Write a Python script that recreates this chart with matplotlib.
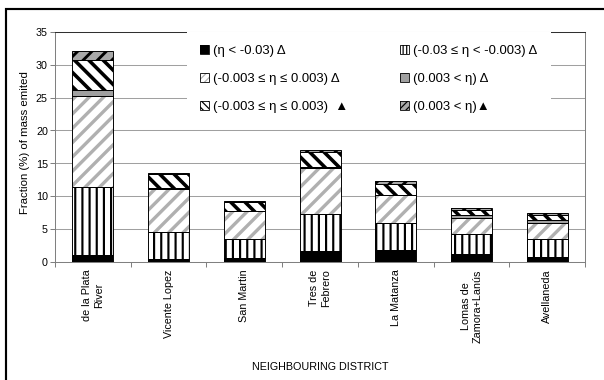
import matplotlib
matplotlib.use("Agg")
import numpy as np
import matplotlib.pyplot as plt
from matplotlib.patches import Patch, Rectangle
from matplotlib.legend_handler import HandlerTuple

plt.rcParams["font.family"] = ["Liberation Sans", "DejaVu Sans"]

districts = ["de la Plata\nRiver", "Vicente Lopez", "San Martin", "Tres de\nFebrero",
             "La Matanza", "Lomas de\nZamora+Lanús", "Avellaneda"]

# fraction (%) of the emitted mass falling in each eta class, per district
eta_lt_m003_open = [1.0, 0.4, 0.6, 1.65, 1.85, 1.15, 0.8]
eta_m003_m0003_open = [10.4, 4.1, 2.9, 5.7, 4.1, 3.15, 2.75]
eta_neutral_open = [13.8, 6.6, 4.2, 7.0, 4.2, 2.4, 2.35]
eta_pos_open = [1.0, 0.1, 0.1, 0.1, 0.1, 0.4, 0.45]
eta_neutral_solid = [4.5, 2.2, 1.3, 2.2, 1.65, 0.75, 0.85]
eta_pos_solid = [1.4, 0.2, 0.2, 0.35, 0.4, 0.4, 0.3]

series_labels = ["(η < -0.03) Δ", "(-0.03 ≤ η < -0.003) Δ", "(-0.003 ≤ η ≤ 0.003) Δ",
                 "(0.003 < η) Δ", "(-0.003 ≤ η ≤ 0.003)  ▲", "(0.003 < η)▲"]
y_ticks = [0, 5, 10, 15, 20, 25, 30, 35]

series = [eta_lt_m003_open, eta_m003_m0003_open, eta_neutral_open,
          eta_pos_open, eta_neutral_solid, eta_pos_solid]

styles = [
    dict(face="black", hatch=None, hcolor="black", hlw=1.0, lhatch=None),
    dict(face="white", hatch="||", hcolor="black", hlw=1.8, lhatch="||||"),
    dict(face="white", hatch="//", hcolor="#b0b0b0", hlw=2.8, lhatch="////"),
    dict(face="#a0a0a0", hatch=None, hcolor="#a0a0a0", hlw=1.0, lhatch=None),
    dict(face="white", hatch="\\\\", hcolor="black", hlw=3.0, lhatch="\\\\\\\\"),
    dict(face="#a8a8a8", hatch="//", hcolor="black", hlw=2.4, lhatch="////"),
]

DPI = 86
W, H = 604, 380
fig = plt.figure(figsize=(604.2 / DPI, 380.2 / DPI), dpi=DPI)
fig.patch.set_facecolor("white")
ax = fig.add_axes([55 / W, 1 - 262 / H, 530 / W, 230 / H])

x = np.arange(len(districts))
width = 0.54
bottom = np.zeros(len(x))
handles = []
for vals, st in zip(series, styles):
    vals = np.asarray(vals, dtype=float)
    with plt.rc_context({"hatch.linewidth": st["hlw"]}):
        bars = ax.bar(x, vals, width, bottom=bottom, color=st["face"],
                      edgecolor=st["hcolor"], hatch=st["hatch"], linewidth=0, zorder=2)
        for p in bars:
            if hasattr(p, "set_hatch_linewidth"):
                p.set_hatch_linewidth(st["hlw"])
        ax.bar(x, vals, width, bottom=bottom, fill=False, edgecolor="black",
               linewidth=0.8, zorder=3)
    with plt.rc_context({"hatch.linewidth": 1.2}):
        fill_h = Patch(facecolor=st["face"], edgecolor=st["hcolor"],
                       hatch=st["lhatch"], linewidth=0)
    edge_h = Patch(fill=False, edgecolor="black", linewidth=0.7)
    handles.append((fill_h, edge_h))
    bottom += vals

ax.set_xlim(-0.5, len(x) - 0.5)
ax.set_ylim(0, 35)
ax.set_yticks(y_ticks)
ax.yaxis.grid(True, color="#a0a0a0", linewidth=0.85, zorder=0)
ax.set_axisbelow(True)

ax.set_xticks(x)
ax.set_xticklabels(districts, rotation=90, ha="center", va="top",
                   multialignment="center", fontsize=9)
ax.set_xticks(np.arange(-0.5, len(x), 1.0), minor=True)
ax.tick_params(axis="x", which="major", length=0, pad=6)
ax.tick_params(axis="x", which="minor", length=4, color="#808080", width=0.85)
ax.tick_params(axis="y", length=4, color="#808080", width=0.85, labelsize=9, pad=2)

for side in ["left", "bottom", "right"]:
    ax.spines[side].set_color("#808080")
    ax.spines[side].set_linewidth(0.85)
ax.spines["top"].set_color("#303030")
ax.spines["top"].set_linewidth(0.85)

ax.set_ylabel("Fraction (%) of mass emited", fontsize=9.5)
ax.yaxis.set_label_coords((25 - 55) / 530, (262 - 142) / 230)
ax.yaxis.label.set_va("center")
ax.set_xlabel("NEIGHBOURING DISTRICT", fontsize=9)
ax.xaxis.set_label_coords(0.5, (262 - 367) / 230)
ax.xaxis.label.set_va("center")

# legend in two columns, filled row by row
order = [0, 2, 4, 1, 3, 5]
fs = 11
fs_px = fs * DPI / 72
hl, htp = 0.7, 0.3

fig.canvas.draw()
renderer = fig.canvas.get_renderer()
col1_text_w = max(
    fig.text(0, 0, series_labels[i], fontsize=fs).get_window_extent(renderer).width
    for i in (0, 2, 4))
for t in list(fig.texts):
    t.remove()
col1_w = (hl + htp) * fs_px + col1_text_w
colspace = (200 - col1_w) / fs_px

bpad = 1.0
x_anchor = (200 - bpad * fs_px - 55) / 530
leg = ax.legend([handles[i] for i in order], [series_labels[i] for i in order],
                handler_map={tuple: HandlerTuple(ndivide=1, pad=0)},
                ncol=2, loc="upper left", bbox_to_anchor=(x_anchor, 1.0),
                borderaxespad=0, borderpad=bpad, fontsize=fs, handlelength=hl,
                handleheight=hl, handletextpad=htp, labelspacing=1.2,
                columnspacing=colspace, frameon=True, fancybox=False)
leg.get_frame().set_facecolor("white")
leg.get_frame().set_edgecolor("none")
leg.get_frame().set_alpha(1)
leg.set_zorder(5)

# outer border of the chart area
fig.patches.append(Rectangle((6 / W, -0.1), 1.2, 1.1 - 9 / H, transform=fig.transFigure,
                             fill=False, edgecolor="black", linewidth=1.8))

fig.savefig("out.png", dpi=DPI, facecolor="white")
